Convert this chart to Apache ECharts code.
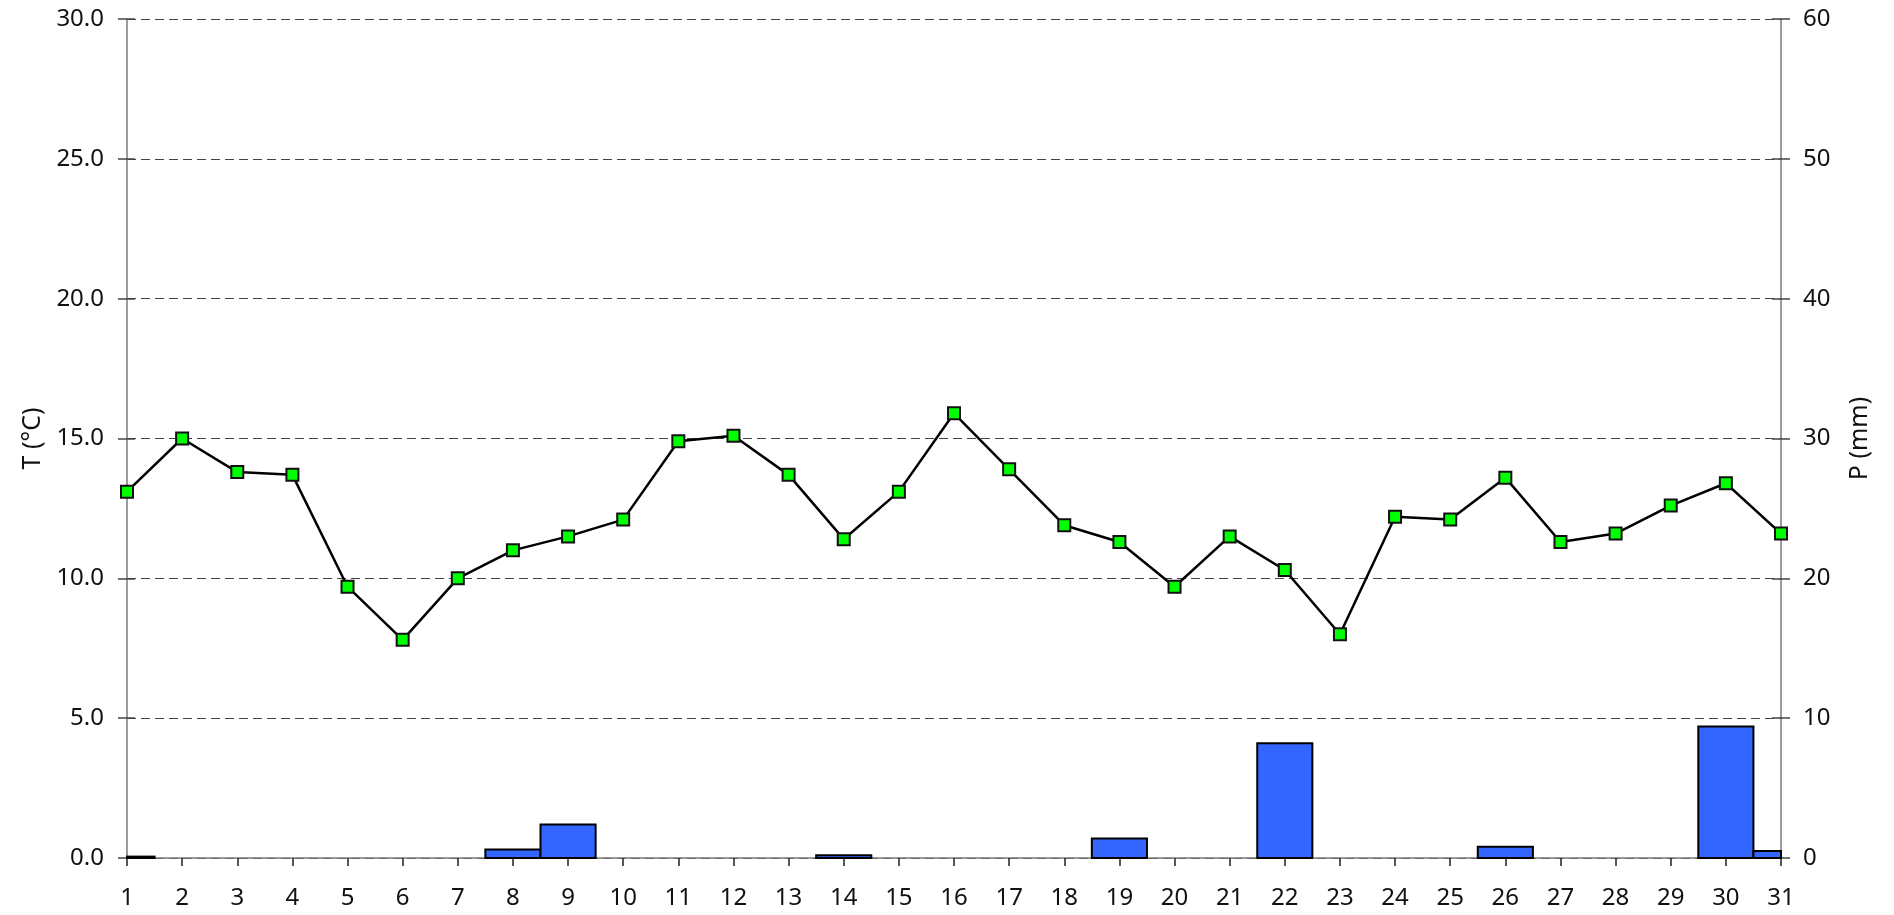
<!DOCTYPE html>
<html>
<head>
<meta charset="utf-8">
<script src="https://cdn.jsdelivr.net/npm/echarts@6/dist/echarts.min.js"></script>
<style>
html,body{margin:0;padding:0;background:#fff;}
#chart{width:1894px;height:915px;}
</style>
</head>
<body>
<div id="chart"></div>
<script>
const days = ['1','2','3','4','5','6','7','8','9','10','11','12','13','14','15','16','17','18','19','20','21','22','23','24','25','26','27','28','29','30','31'];
const temperature = [13.1,15.0,13.8,13.7,9.7,7.8,10.0,11.0,11.5,12.1,14.9,15.1,13.7,11.4,13.1,15.9,13.9,11.9,11.3,9.7,11.5,10.3,8.0,12.2,12.1,13.6,11.3,11.6,12.6,13.4,11.6];
const precipitation = [0.1,null,null,null,null,null,null,0.6,2.4,null,null,null,null,0.2,null,null,null,null,1.4,null,null,8.2,null,null,null,0.8,null,null,null,9.4,0.5];
const tempAxisName = 'T (°C)';
const precAxisName = 'P (mm)';

const FONT = 'Noto Sans';
const chart = echarts.init(document.getElementById('chart'), null, {renderer: 'canvas'});
const axisLineStyle = {color: '#7a7a7a', width: 1.5};
const tickStyle = {color: '#444', width: 1.5};

const barData = [];
precipitation.forEach((v, i) => { if (v !== null) barData.push([i, v]); });

function renderBar(params, api) {
  const x = api.value(0);
  const v = api.value(1);
  const base = api.coord([x, 0]);
  const top = api.coord([x, v]);
  const w = api.size([1, 0])[0];
  const rect = {x: base[0] - w / 2, y: top[1], width: w, height: base[1] - top[1]};
  const cs = params.coordSys;
  const clipped = echarts.graphic.clipRectByRect(rect, {x: cs.x, y: cs.y, width: cs.width, height: cs.height});
  if (!clipped) return null;
  return {
    type: 'rect',
    shape: clipped,
    style: {fill: '#3366ff', stroke: '#000', lineWidth: 2}
  };
}

chart.setOption({
  animation: false,
  backgroundColor: '#ffffff',
  grid: {left: 127, right: 113, top: 19, bottom: 57, containLabel: false},
  xAxis: {
    type: 'category',
    data: days,
    boundaryGap: false,
    axisLine: {lineStyle: axisLineStyle},
    axisTick: {show: true, length: 8, lineStyle: {color: '#222', width: 1.5}},
    axisLabel: {color: '#111', fontFamily: FONT, fontSize: 24, margin: 28, interval: 0},
    splitLine: {show: false}
  },
  yAxis: [
    {
      type: 'value', min: 0, max: 30, interval: 5, position: 'left',
      name: tempAxisName, nameLocation: 'middle', nameGap: 82, nameRotate: 90,
      nameTextStyle: {color: '#111', fontFamily: FONT, fontSize: 25},
      axisLine: {show: true, lineStyle: axisLineStyle},
      axisTick: {show: true, length: 9, lineStyle: tickStyle},
      axisLabel: {color: '#111', fontFamily: FONT, fontSize: 24, margin: 23,
        formatter: v => v.toFixed(1)},
      splitLine: {show: true, lineStyle: {color: '#444', width: 1, type: [9, 5]}}
    },
    {
      type: 'value', min: 0, max: 60, interval: 10, position: 'right',
      name: precAxisName, nameLocation: 'middle', nameGap: 66, nameRotate: 90,
      nameTextStyle: {color: '#111', fontFamily: FONT, fontSize: 25},
      axisLine: {show: true, lineStyle: axisLineStyle},
      axisTick: {show: true, length: 9, lineStyle: tickStyle},
      axisLabel: {color: '#111', fontFamily: FONT, fontSize: 24, margin: 22},
      splitLine: {show: false}
    },
    {
      type: 'value', min: 0, max: 30, interval: 5, position: 'left',
      axisLine: {show: false},
      axisTick: {show: true, inside: true, length: 8, lineStyle: tickStyle},
      axisLabel: {show: false}, splitLine: {show: false}
    },
    {
      type: 'value', min: 0, max: 60, interval: 10, position: 'right',
      axisLine: {show: false},
      axisTick: {show: true, inside: true, length: 9, lineStyle: tickStyle},
      axisLabel: {show: false}, splitLine: {show: false}
    }
  ],
  series: [
    {
      type: 'custom', yAxisIndex: 1, data: barData, z: 2,
      renderItem: renderBar,
      encode: {x: 0, y: 1}
    },
    {
      type: 'line', yAxisIndex: 0, data: temperature,
      symbol: 'rect', symbolSize: 12, showAllSymbol: true, z: 3,
      lineStyle: {color: '#000', width: 2.5},
      itemStyle: {color: '#00ff00', borderColor: '#111', borderWidth: 2}
    }
  ]
});
</script>
</body>
</html>
